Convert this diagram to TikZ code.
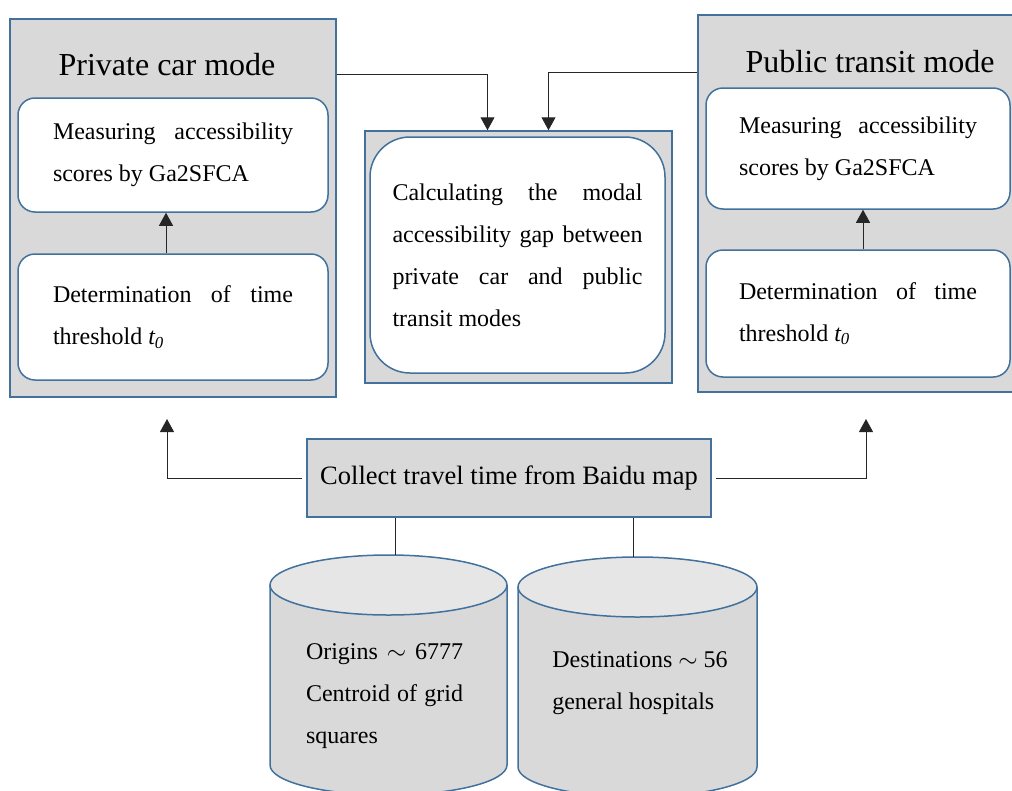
\documentclass[tikz,border=0pt]{standalone}
\usepackage{fontspec}
\setmainfont{Liberation Serif}
\usetikzlibrary{arrows.meta}
\definecolor{boxblue}{RGB}{65,113,156}
\definecolor{boxgray}{RGB}{217,217,217}
\definecolor{boxtop}{RGB}{230,230,230}

\begin{document}
\hyphenpenalty=10000
\exhyphenpenalty=10000
\begin{tikzpicture}[x=1pt, y=-1pt,
    panel/.style={rectangle, draw=boxblue, line width=1.5pt, fill=boxgray, inner sep=0pt},
    inbox/.style={rectangle, draw=boxblue, line width=1.5pt, fill=white, rounded corners=17pt, inner sep=0pt, align=justify, text width=240pt, font=\fontsize{24}{42}\selectfont},
    modetitle/.style={anchor=base, font=\fontsize{32}{38}\selectfont},
    store/.style={draw=boxblue, line width=1.5pt},
    arr/.style={-{Triangle[length=13pt, width=14pt]}, line width=1pt, draw=black!85}]
    \useasboundingbox (0,0) rectangle (1012,790);
    \clip (0,0) rectangle (1012,790);

    \node[panel, minimum width=326pt, minimum height=378pt] (carpanel) at (173,208) {};
    \node[modetitle] (cartitle) at (167,75) {Private car mode};
    \node[inbox, minimum width=310pt, minimum height=114pt] (carscore) at (173,155) {Measuring accessibility scores by Ga2SFCA};
    \node[inbox, minimum width=310pt, minimum height=126pt] (carthres) at (173,317) {Determination of time threshold {\itshape t\textsubscript{0}}};

    \node[panel, minimum width=307pt, minimum height=252pt] (gapouter) at (518.5,257) {};
    \node[inbox, rounded corners=40pt, text width=250pt, minimum width=295pt, minimum height=236pt] (gapbox) at (517.5,255) {Calculating the modal accessibility gap between private car and public transit modes};

    \node[panel, minimum width=322pt, minimum height=377pt] (buspanel) at (859,203.5) {};
    \node[modetitle] (bustitle) at (870,72) {Public transit mode};
    \node[inbox, text width=238pt, minimum width=304pt, minimum height=121pt] (busscore) at (858,148.5) {Measuring accessibility scores by Ga2SFCA};
    \node[inbox, text width=238pt, minimum width=304pt, minimum height=127pt] (busthres) at (858,313.5) {Determination of time threshold {\itshape t\textsubscript{0}}};

    \node[panel, font=\fontsize{26.5}{32}\selectfont, minimum width=404pt, minimum height=78pt] (collect) at (509,478) {Collect travel time from Baidu map};

    \fill[boxgray] (270,585) -- (270,765) arc[start angle=180, end angle=0, x radius=118.5, y radius=30] -- (507,585) -- cycle;
    \draw[store] (270,585) -- (270,765) arc[start angle=180, end angle=0, x radius=118.5, y radius=30] -- (507,585);
    \draw[store, fill=boxtop] (388.5,585) ellipse [x radius=118.5, y radius=30];
    \fill[boxgray] (518,587) -- (518,767) arc[start angle=180, end angle=0, x radius=119.5, y radius=30] -- (757,587) -- cycle;
    \draw[store] (518,587) -- (518,767) arc[start angle=180, end angle=0, x radius=119.5, y radius=30] -- (757,587);
    \draw[store, fill=boxtop] (637.5,587) ellipse [x radius=119.5, y radius=30];
    \coordinate (origins) at (395,555);
    \coordinate (dests) at (633,557);

    \node[font=\fontsize{24}{42}\selectfont, text width=157pt, align=justify] (originstxt) at (384.5,696) {Origins $\sim$ 6777 Centroid of grid squares};
    \node[font=\fontsize{24}{42}\selectfont, align=left] (deststxt) at (640,683) {Destinations $\sim$ 56\\general hospitals};

    \coordinate (cartip) at (167,419);
    \coordinate (bustip) at (866,419);

    \draw[arr] ([xshift=-7pt]carthres.north) -- ([xshift=-7pt]carscore.south);
    \draw[arr] ([xshift=5pt]busthres.north) -- ([xshift=5pt]busscore.south);
    \draw[arr] (carpanel.east |- 0,74) -| ([xshift=-31pt]gapouter.north);
    \draw[arr] (buspanel.west |- 0,72) -| ([xshift=30pt]gapouter.north);
    \draw[arr, shorten <=4pt] (collect.west) -| (cartip);
    \draw[arr, shorten <=4pt] (collect.east) -| (bustip);
    \draw[line width=1pt, black!85] (collect.south -| origins) -- (origins);
    \draw[line width=1pt, black!85] (collect.south -| dests) -- (dests);
\end{tikzpicture}
\end{document}
